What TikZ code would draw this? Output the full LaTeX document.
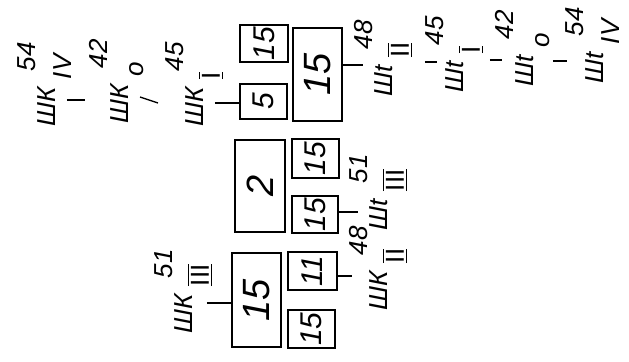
\documentclass[tikz,border=0pt]{standalone}
\usepackage{fontspec}
\setmainfont{Liberation Sans}
\usetikzlibrary{fit}
\newcommand{\rom}[1]{$\overline{\underline{\mbox{\upshape #1}}}$}
\newcommand{\tagtx}[3]{\itshape #1\hspace{4pt}\rlap{\raisebox{-8pt}{#3}}\hspace{4pt}\raisebox{10pt}{#2}}
\newcommand{\smallnum}{\fontsize{15}{15}\selectfont\itshape}
\newcommand{\bignum}{\fontsize{19}{19}\selectfont\itshape}
\tikzset{every picture/.style={line width=0.75pt}}

\begin{document}
\begin{tikzpicture}[x=0.5pt, y=-0.5pt,
    cell/.style={draw, inner sep=0pt, line width=0.8pt},
    small/.style={label={[rotate=90, font=\smallnum]center:#1}},
    big/.style={label={[rotate=90, font=\bignum]center:#1}},
    tag/.style={rotate=90, anchor=base west, inner sep=0pt, font=\fontsize{13}{15}\selectfont},
    tick/.style={line width=0.7pt}]
    % scan frame
    \path[use as bounding box, fill=white] (0,0) rectangle (629,361);

    % upper block
    \node[cell, small=15, fit={(240,25) (288,62)}] (A) {};
    \node[cell, small=5, fit={(240,84) (287,119)}] (B) {};
    \node[cell, big=15, fit={(293,28) (342,121)}] (C) {};

    % middle block
    \node[cell, big=2, fit={(235,140) (285,232)}] (D) {};
    \node[cell, small=15, fit={(292,139) (339,178)}] (E) {};
    \node[cell, small=15, fit={(292,196) (338,233)}] (F) {};

    % lower block
    \node[cell, big=15, fit={(232,253) (281,347)}] (G) {};
    \node[cell, small=11, fit={(288,252) (337,290)}] (H) {};
    \node[cell, small=15, fit={(288,310) (335,348)}] (I) {};

    % labels left of the upper block
    \node[tag] (wkIV) at (55,127) {\tagtx{ШК}{54}{IV}};
    \node[tag] (wkO) at (128,124) {\tagtx{ШК}{42}{o}};
    \node[tag] (wkI) at (204,127) {\tagtx{ШК}{45}{\rom{I}}};

    % labels right of the upper block
    \node[tag] (wtII) at (393,97) {\tagtx{Шt}{48}{\rom{II}}};
    \node[tag] (wtI) at (464,93) {\tagtx{Шt}{45}{\rom{I}}};
    \node[tag] (wtO) at (534,87) {\tagtx{Шt}{42}{o}};
    \node[tag] (wtIV) at (604,84) {\tagtx{Шt}{54}{IV}};

    % labels of the middle and lower blocks
    \node[tag] (wtIII) at (388,231) {\tagtx{Шt}{51}{\rom{III}}};
    \node[tag] (wkII) at (388,311) {\tagtx{ШК}{48}{\rom{II}}};
    \node[tag] (wkIII) at (193,334) {\tagtx{ШК}{51}{\rom{III}}};

    % dashes
    \coordinate (dIVa) at (67,100);  \coordinate (dIVb) at (85,100);
    \coordinate (dOa) at (140,97);   \coordinate (dOb) at (158,103);
    \coordinate (dI) at (215,103);
    \coordinate (eII) at (363,65);
    \coordinate (eIa) at (425,62);   \coordinate (eIb) at (437,62);
    \coordinate (eOa) at (490,60);   \coordinate (eOb) at (502,60);
    \coordinate (eIVa) at (553,61);  \coordinate (eIVb) at (567,61);
    \coordinate (eIII) at (358,212);
    \coordinate (dII) at (352,276);
    \coordinate (dIII) at (207,303);
    \draw[tick] (dIVa) -- (dIVb);
    \draw[tick] (dOa) -- (dOb);
    \draw[tick] (dI) -- (dI -| B.west);
    \draw[tick] (eII -| C.east) -- (eII);
    \draw[tick] (eIa) -- (eIb);
    \draw[tick] (eOa) -- (eOb);
    \draw[tick] (eIVa) -- (eIVb);
    \draw[tick] (eIII -| F.east) -- (eIII);
    \draw[tick] (dII -| H.east) -- (dII);
    \draw[tick] (dIII) -- (dIII -| G.west);
\end{tikzpicture}
\end{document}
